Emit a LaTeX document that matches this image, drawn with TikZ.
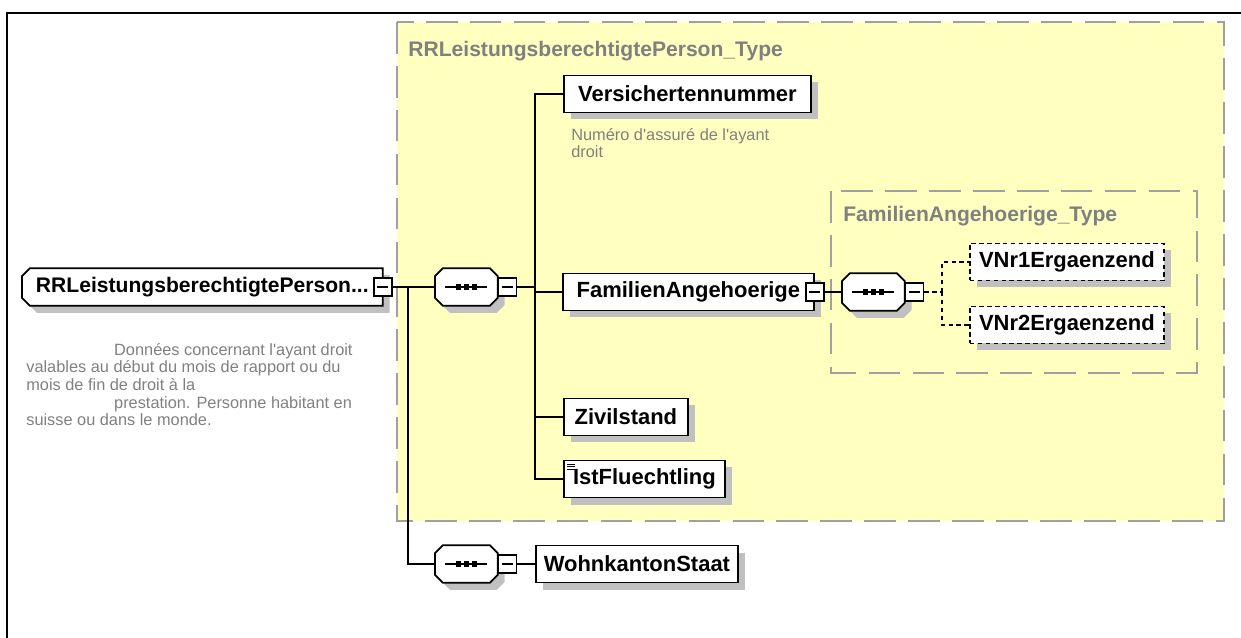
\documentclass[tikz,border=0pt]{standalone}
\usepackage{fontspec}
\setmainfont{Liberation Sans}
\usetikzlibrary{shadows,backgrounds}
\definecolor{typefill}{HTML}{FFFFC0}
\definecolor{typeline}{HTML}{A0A0A0}
\definecolor{notegray}{HTML}{808080}
\definecolor{shadowgray}{HTML}{C0C0C0}
\newcommand{\px}{0.02cm}
\newcommand{\q}{\textquotesingle}
% outline of a sequence compositor (all corners cut), #2/#3 = offset in px
\newcommand{\octpath}[3]{([shift={(#2+8,#3)}]#1.north west) -- ([shift={(#2-8,#3)}]#1.north east)
    -- ([shift={(#2,#3+8)}]#1.north east) -- ([shift={(#2,#3-8)}]#1.south east)
    -- ([shift={(#2-8,#3)}]#1.south east) -- ([shift={(#2+8,#3)}]#1.south west)
    -- ([shift={(#2,#3-8)}]#1.south west) -- ([shift={(#2,#3+8)}]#1.north west) -- cycle}
% outline of the root element (left corners cut)
\newcommand{\rootpath}[3]{([shift={(#2+8,#3)}]#1.north west) -- ([shift={(#2,#3)}]#1.north east)
    -- ([shift={(#2,#3)}]#1.south east) -- ([shift={(#2+8,#3)}]#1.south west)
    -- ([shift={(#2,#3-8)}]#1.south west) -- ([shift={(#2,#3+8)}]#1.north west) -- cycle}
\newcommand{\drawseq}[1]{%
    \begin{pgfonlayer}{background}
        \fill[shadowgray] \octpath{#1}{7}{7};
        \filldraw[fill=white, line width=1pt] \octpath{#1}{0}{0};
        \draw[line width=1pt] ([xshift=-12pt]#1.center) -- ([xshift=12pt]#1.center);
        \foreach \d in {-4.5,0,4.5}
            \fill ([xshift=\d pt]#1.center) +(-1.5pt,-1.5pt) rectangle +(1.5pt,1.5pt);
    \end{pgfonlayer}}

\begin{document}
\begin{tikzpicture}[x=0.02cm, y=-0.02cm,
    boxshadow/.style={drop shadow={shadow xshift=7*\px, shadow yshift=-7*\px, fill=shadowgray, opacity=1}},
    elem/.style={draw, line width=1pt, fill=white, boxshadow, anchor=west, inner sep=0pt, minimum height=37*\px,
        font=\fontsize{12.5}{14}\selectfont\bfseries},
    optelem/.style={elem, dash pattern=on 2.5pt off 2pt},
    rootelem/.style={anchor=west, inner sep=0pt, minimum height=37*\px,
        font=\fontsize{12}{14}\selectfont\bfseries},
    seq/.style={anchor=west, inner sep=0pt, minimum width=62*\px, minimum height=37*\px},
    minus/.style={draw, line width=1pt, fill=white, inner sep=0pt, minimum size=18*\px,
        path picture={\draw ([xshift=2pt]path picture bounding box.west) -- ([xshift=-2pt]path picture bounding box.east);}},
    simple/.style={path picture={
        \foreach \k in {0,1,2}
            \draw[line width=0.5pt] ([xshift=2pt,yshift=-2pt-1.6*\k pt]path picture bounding box.north west) -- +(4.5pt,0);
        }},
    link/.style={line width=1pt},
    optlink/.style={link, dash pattern=on 2.5pt off 2pt},
    typebox/.style={draw=typeline, fill=typefill, line width=1.1pt, dash pattern=on 18pt off 7pt},
    typelabel/.style={anchor=west, inner sep=0pt, text=notegray, font=\fontsize{12}{14}\selectfont\bfseries},
    note/.style={anchor=north west, inner sep=0pt, align=left, text=notegray, font=\fontsize{9.3}{10}\selectfont}]

    \useasboundingbox (0,0) rectangle (1241,638);
    % frame
    \draw[line width=1.7pt] (7,638) -- (7,13) -- (1241,13);

    % complex types
    \begin{pgfonlayer}{background}
        \draw[typebox] (397,22) rectangle (1224,521);
        \draw[typebox] (831,191) rectangle (1197,373);
    \end{pgfonlayer}
    \node[typelabel] (typeA) at (408,51) {RRLeistungsberechtigtePerson\_Type};
    \node[typelabel] (typeB) at (843,216) {FamilienAngehoerige\_Type};

    % root element
    \node[rootelem, minimum width=360*\px] (root) at (22,287) {RRLeistungsberechtigtePerson...\hspace{8pt}};
    \begin{pgfonlayer}{background}
        \fill[shadowgray] \rootpath{root}{7}{7};
        \filldraw[fill=white, line width=1pt] \rootpath{root}{0}{0};
    \end{pgfonlayer}
    \node[minus] (rootm) at (root.east) {};
    \node[note] (rootnote) at (26,343) {\hspace*{50pt}Données concernant l\q ayant droit\\
        valables au début du mois de rapport ou du\\
        mois de fin de droit à la\\
        \hspace*{50pt}prestation. Personne habitant en\\
        suisse ou dans le monde.};

    % sequences
    \node[seq] (seqA) at (435,287) {};
    \drawseq{seqA}
    \node[minus, anchor=west] (seqAm) at (seqA.east) {};
    \node[seq] (seqB) at (435,564) {};
    \drawseq{seqB}
    \node[minus, anchor=west] (seqBm) at (seqB.east) {};

    % children
    \node[elem, minimum width=247*\px] (vers) at (563,94) {Versichertennummer};
    \node[note] (versnote) at (571,128) {Numéro d\q assuré de l\q ayant\\droit};
    \node[elem, minimum width=251*\px] (fam) at (562,292) {FamilienAngehoerige\hspace{14pt}};
    \node[minus] (famm) at (fam.east) {};
    \node[elem, minimum width=124*\px] (ziv) at (563,417) {Zivilstand};
    \node[elem, simple, minimum width=161*\px] (ist) at (563,479) {IstFluechtling};
    \node[elem, minimum width=202*\px] (wohn) at (535,564) {WohnkantonStaat};

    % family members
    \node[seq] (seqC) at (842,292) {};
    \drawseq{seqC}
    \node[minus, anchor=west] (seqCm) at (seqC.east) {};
    \node[optelem, minimum width=194*\px] (vnrA) at (969,262) {VNr1Ergaenzend};
    \node[optelem, minimum width=194*\px] (vnrB) at (969,325) {VNr2Ergaenzend};

    % connectors
    \coordinate (forkA) at (408,287);
    \coordinate (forkB) at (535,287);
    \coordinate (forkC) at (942,292);
    \draw[link] (rootm.east) -- (seqA.west);
    \draw[link] (forkA) |- (seqB.west);
    \draw[link] (seqAm.east) -- (forkB);
    \foreach \n in {vers,fam,ziv,ist}
        \draw[link] (forkB) |- (\n.west);
    \draw[link] (seqBm.east) -- (wohn.west);
    \draw[link] (famm.east) -- (seqC.west);
    \draw[optlink] (seqCm.east) -- (forkC);
    \foreach \n in {vnrA,vnrB}
        \draw[optlink] (forkC) |- (\n.west);
\end{tikzpicture}
\end{document}
